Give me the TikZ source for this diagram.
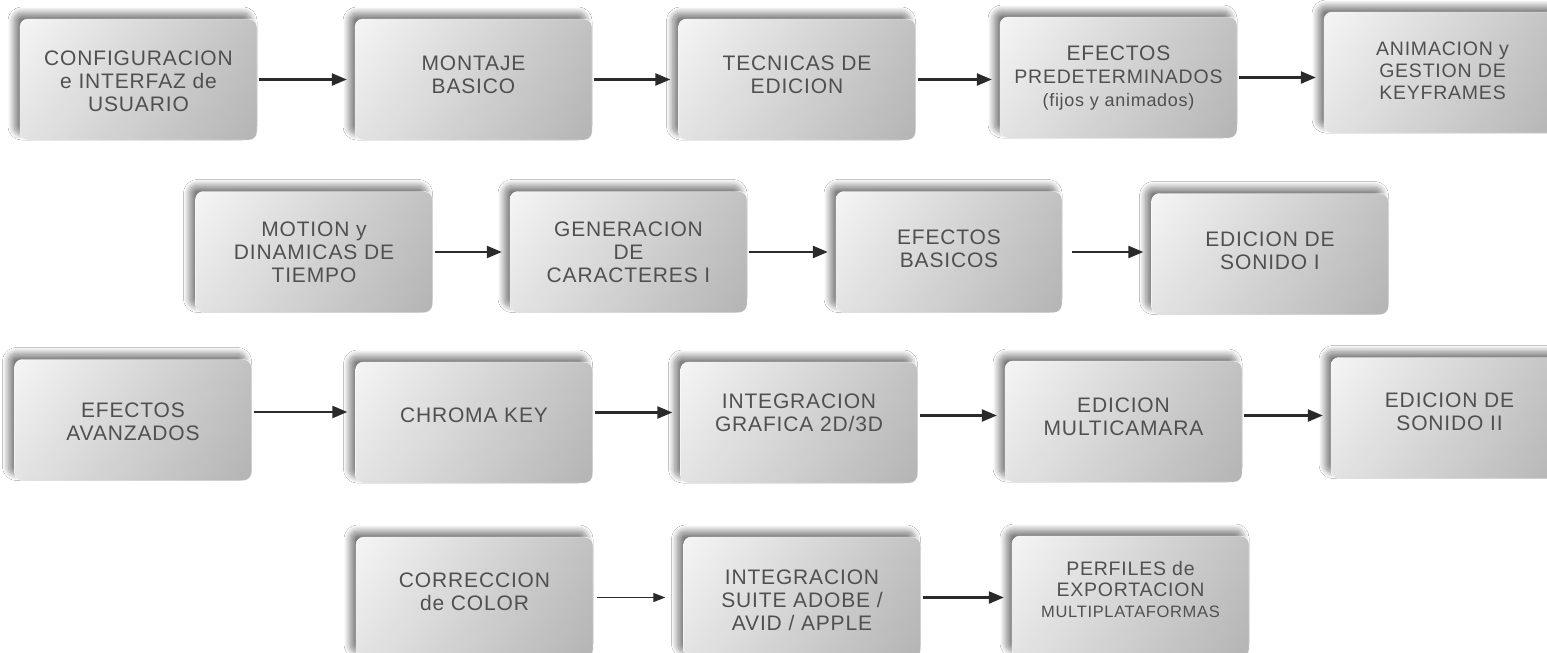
\documentclass[tikz,border=0pt]{standalone}
\usepackage{fontspec}
\setmainfont{Liberation Sans}[LetterSpace=4]
\usetikzlibrary{positioning,calc,arrows.meta,shadows.blur,fadings}

\definecolor{boxtext}{HTML}{505050}
\definecolor{boxleft}{HTML}{F5F5F5}
\definecolor{boxright}{HTML}{C2C2C2}
\definecolor{arrowgray}{HTML}{2A2A2A}

\tikzset{
  stage/.style={rectangle, rounded corners=8pt, minimum width=237pt, minimum height=121pt,
    align=center, text=boxtext, font=\fontsize{21}{23}\selectfont,
    left color=boxleft, right color=boxright, draw=white, line width=0.4pt,
    blur shadow={shadow xshift=-6pt, shadow yshift=6pt, shadow blur radius=6pt,
      shadow blur steps=12, shadow opacity=50},
    postaction={fill=black, fill opacity=0.07, path fading=north}},
  lift/.style={text height=#1, text depth=0pt},
  flow/.style={-{Triangle[length=15pt,width=12pt]}, line width=2.3pt, draw=arrowgray,
    shorten >=8pt, shorten <=2pt},
  thinflow/.style={flow, -{Triangle[length=12pt,width=9pt]}, line width=1.3pt}
}

\begin{document}
\begin{tikzpicture}[x=1pt, y=-1pt]
	\fill[white] (0,0) rectangle (1547,653);
	\useasboundingbox (0,0) rectangle (1547,653);

	\node[stage, lift=63pt] (config) at (138.5, 79.5) {CONFIGURACION\\e INTERFAZ de\\USUARIO};
	\node[stage, lift=27pt] (montaje) at (473.5, 79.5) {MONTAJE\\BASICO};
	\node[stage, lift=27pt] (tecnicas) at (797, 79.5) {TECNICAS DE\\EDICION};
	\node[stage, lift=57pt] (predet) at (1118.5, 77.5) {EFECTOS\\{\fontsize{19.5}{22}\selectfont PREDETERMINADOS}\\{\fontsize{18}{21}\selectfont (fijos y animados)}};
	\node[stage, lift=53pt, font=\fontsize{19.5}{22}\selectfont] (keyframes) at (1442.5, 72.5) {ANIMACION y\\GESTION DE\\KEYFRAMES};

	\node[stage, lift=60pt] (motion) at (314, 252) {MOTION y\\DINAMICAS DE\\TIEMPO};
	\node[stage, lift=60pt] (caracteres) at (628.5, 252) {GENERACION\\DE\\CARACTERES I};
	\node[stage, lift=30pt, minimum width=226pt] (basicos) at (949, 252) {EFECTOS\\BASICOS};
	\node[stage, lift=30pt] (sonido1) at (1270, 254) {EDICION DE\\SONIDO I};

	\node[stage, lift=40pt] (avanzados) at (133, 420) {EFECTOS\\AVANZADOS};
	\node[stage, lift=-5pt] (chroma) at (474, 422.5) {CHROMA KEY};
	\node[stage, lift=17pt] (grafica) at (799, 422.5) {INTEGRACION\\GRAFICA 2D/3D};
	\node[stage, lift=27pt] (multicam) at (1123.5, 421.5) {EDICION\\MULTICAMARA};
	\node[stage, lift=24pt] (sonido2) at (1449.5, 418) {EDICION DE\\SONIDO II};

	\node[stage, lift=25pt] (color) at (474.5, 597.5) {CORRECCION\\de COLOR};
	\node[stage, lift=65pt] (suite) at (802, 597.5) {INTEGRACION\\SUITE ADOBE /\\AVID / APPLE};
	\node[stage, lift=41pt, font=\fontsize{19.5}{21}\selectfont] (perfiles) at (1130.5, 596.5) {PERFILES de\\EXPORTACION\\{\fontsize{16.5}{21}\selectfont MULTIPLATAFORMAS}};

	\draw[flow] (config.east) -- (config.east -| montaje.west);
	\draw[flow] (montaje.east) -- (montaje.east -| tecnicas.west);
	\draw[flow] (tecnicas.east) -- (tecnicas.east -| predet.west);
	\draw[flow] (predet.east) -- (predet.east -| keyframes.west);

	\draw[flow] (motion.east) -- (motion.east -| caracteres.west);
	\draw[flow] (caracteres.east) -- (caracteres.east -| basicos.west);
	\draw[flow, shorten <=10pt] (basicos.east) -- (basicos.east -| sonido1.west);

	\draw[flow] ([yshift=8pt]avanzados.east) -- ([yshift=8pt]avanzados.east -| chroma.west);
	\draw[flow] ([yshift=10pt]chroma.east) -- ([yshift=10pt]chroma.east -| grafica.west);
	\draw[flow] ([yshift=7pt]grafica.east) -- ([yshift=7pt]grafica.east -| multicam.west);
	\draw[flow] ([yshift=6pt]multicam.east) -- ([yshift=6pt]multicam.east -| sonido2.west);

	\draw[thinflow, shorten >=18pt, shorten <=4pt] (color.east) -- (color.east -| suite.west);
	\draw[flow] (suite.east) -- (suite.east -| perfiles.west);
\end{tikzpicture}
\end{document}
